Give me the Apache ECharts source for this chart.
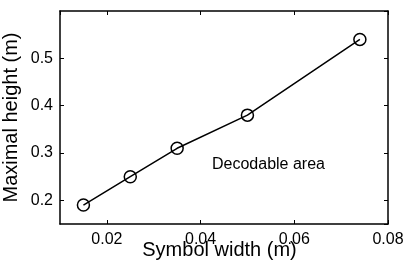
<!DOCTYPE html>
<html><head><meta charset="utf-8">
<script src="https://cdn.jsdelivr.net/npm/echarts@6/dist/echarts.min.js"></script>
<style>html,body{margin:0;padding:0;background:#fff}#c{width:407px;height:268px}</style>
</head><body><div id="c"></div>
<script>
const symbolWidth = [0.015, 0.025, 0.035, 0.05, 0.074];
const maxHeight = [0.19, 0.25, 0.31, 0.38, 0.54];
const xTitle = 'Symbol width (m)';
const yTitle = 'Maximal height (m)';
const note = 'Decodable area';

const FONT = '"Liberation Sans", Arial, Helvetica, sans-serif';
const chart = echarts.init(document.getElementById('c'), null, {renderer: 'canvas'});
const axisLine = {show: true, onZero: false, lineStyle: {color: '#000', width: 1.5}};
const tick = {show: true, inside: true, length: 4, lineStyle: {color: '#000', width: 1}};
chart.setOption({
  animation: false,
  backgroundColor: '#fff',
  grid: {left: 60, right: 19, top: 11, bottom: 44, show: false, containLabel: false, outerBoundsMode: 'none'},
  xAxis: [{
    type: 'value', min: 0.01, max: 0.08, splitNumber: 3,
    axisLine, axisTick: tick, splitLine: {show: false},
    axisLabel: {color: '#000', fontFamily: FONT, fontSize: 16, margin: 8, showMinLabel: false,
      formatter: v => v.toFixed(2)},
    name: xTitle, nameLocation: 'middle', nameGap: 16, nameMoveOverlap: false,
    nameTextStyle: {color: '#000', fontFamily: FONT, fontSize: 20, padding: [0, 9, 0, 0]}
  }, {
    type: 'value', position: 'top', min: 0.01, max: 0.08, splitNumber: 3,
    axisLine, axisTick: tick, splitLine: {show: false}, axisLabel: {show: false}
  }],
  yAxis: [{
    type: 'value', min: 0.15, max: 0.6, splitNumber: 5,
    axisLine, axisTick: tick, splitLine: {show: false},
    axisLabel: {color: '#000', fontFamily: FONT, fontSize: 16, margin: 7, showMinLabel: false, showMaxLabel: false,
      formatter: v => v.toFixed(1)},
    name: yTitle, nameLocation: 'middle', nameGap: 39, nameMoveOverlap: false,
    nameTextStyle: {color: '#000', fontFamily: FONT, fontSize: 20}
  }, {
    type: 'value', position: 'right', min: 0.15, max: 0.6, splitNumber: 5,
    axisLine, axisTick: tick, splitLine: {show: false}, axisLabel: {show: false}
  }],
  graphic: [{
    type: 'text', left: 212, top: 157,
    style: {text: note, fill: '#000', font: '16px ' + FONT}
  }],
  series: [{
    type: 'line',
    data: symbolWidth.map((x, i) => [x, maxHeight[i]]),
    symbol: 'circle', symbolSize: 12, showAllSymbol: true,
    lineStyle: {color: '#000', width: 1.5},
    itemStyle: {color: 'rgba(255,255,255,0)', borderColor: '#000', borderWidth: 1.5}
  }]
});
</script></body></html>
